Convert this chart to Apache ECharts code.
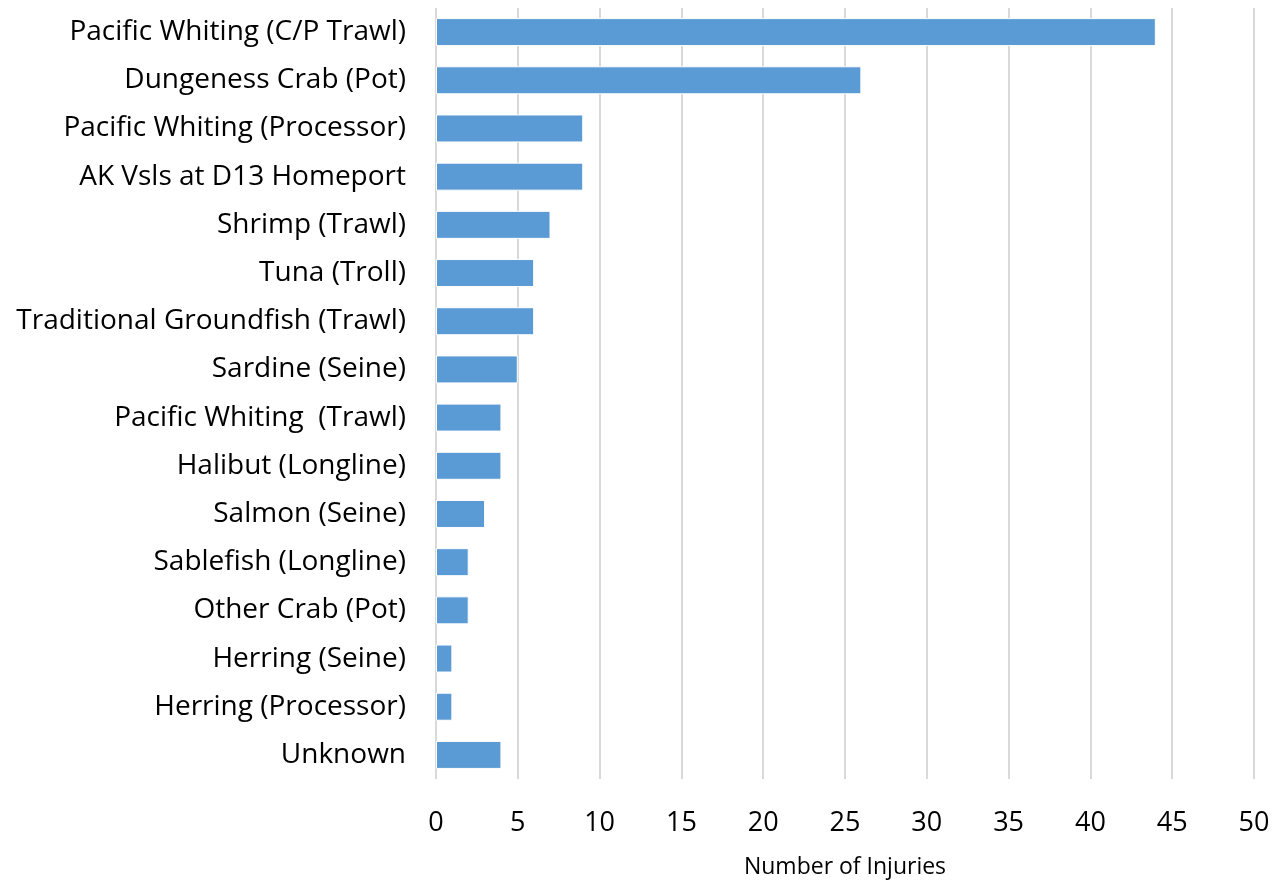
<!DOCTYPE html>
<html>
<head>
<meta charset="utf-8">
<script src="https://cdn.jsdelivr.net/npm/echarts@6/dist/echarts.min.js"></script>
<style>
  html, body { margin: 0; padding: 0; background: #fff; }
  #chart { width: 1274px; height: 880px; }
</style>
</head>
<body>
<div id="chart"></div>
<script>
// Fishery categories, listed top to bottom
const categories = [
  'Pacific Whiting (C/P Trawl)',
  'Dungeness Crab (Pot)',
  'Pacific Whiting (Processor)',
  'AK Vsls at D13 Homeport',
  'Shrimp (Trawl)',
  'Tuna (Troll)',
  'Traditional Groundfish (Trawl)',
  'Sardine (Seine)',
  'Pacific Whiting  (Trawl)',
  'Halibut (Longline)',
  'Salmon (Seine)',
  'Sablefish (Longline)',
  'Other Crab (Pot)',
  'Herring (Seine)',
  'Herring (Processor)',
  'Unknown'
];
// Injury counts per fishery
const injuries = [44, 26, 9, 9, 7, 6, 6, 5, 4, 4, 3, 2, 2, 1, 1, 4];
const axisTitle = 'Number of Injuries';

const font = '"Open Sans", "Noto Sans", sans-serif';
const chart = echarts.init(document.getElementById('chart'), null, { renderer: 'canvas' });
chart.setOption({
  animation: false,
  grid: { left: 436, right: 20, top: 8, bottom: 101, containLabel: false, outerBoundsMode: 'none' },
  xAxis: {
    type: 'value',
    min: 0, max: 50, interval: 5,
    name: axisTitle,
    nameLocation: 'middle',
    nameGap: 77,
    nameTextStyle: { fontFamily: font, fontSize: 23, color: '#000' },
    axisLine: { show: false },
    axisTick: { show: false },
    axisLabel: { fontFamily: font, fontSize: 27, color: '#000', margin: 31 },
    splitLine: { show: true, lineStyle: { color: '#d9d9d9', width: 2 } }
  },
  yAxis: {
    type: 'category',
    data: categories,
    inverse: true,
    axisLine: { show: false },
    axisTick: { show: false },
    axisLabel: { fontFamily: font, fontSize: 28, color: '#000', margin: 30 }
  },
  series: [{
    type: 'bar',
    data: injuries,
    barWidth: 28,
    itemStyle: { color: '#5b9bd5', borderColor: '#fff', borderWidth: 1 }
  }]
});
</script>
</body>
</html>
